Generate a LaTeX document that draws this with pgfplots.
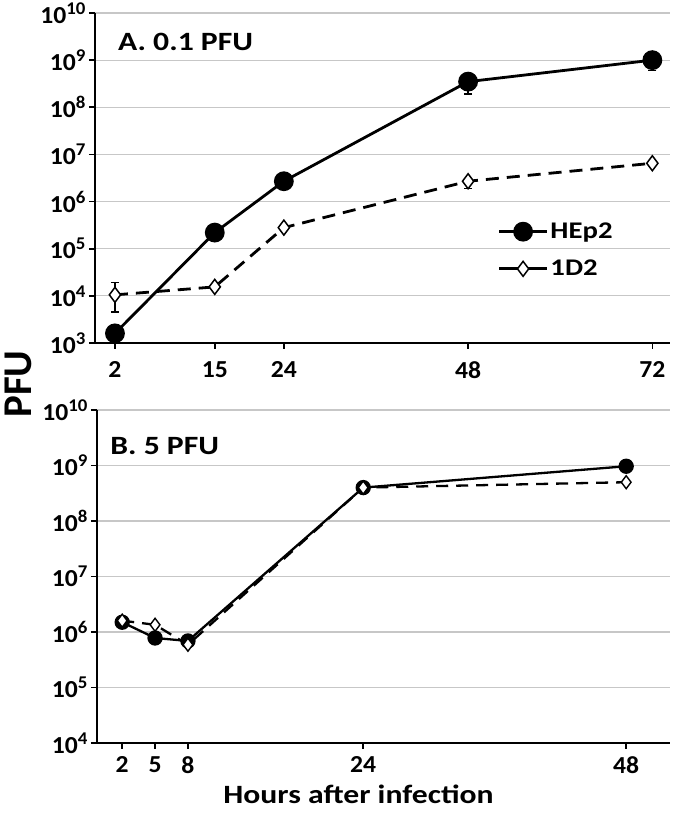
\documentclass[border=0pt]{standalone}
\usepackage{fontspec}
\setmainfont{Carlito}
\newfontfamily\wide{Carlito}[FakeStretch=1.2]
\newfontfamily\tickf{Carlito}[FakeStretch=1.05]
\usepackage{pgfplots}
\pgfplotsset{compat=1.18}
\newcommand\ee[1]{10\raisebox{9bp}{\fontsize{18}{18}\selectfont #1}}
\begin{document}
\begin{tikzpicture}
\path[use as bounding box] (0bp,0bp) rectangle (677bp,-813bp);
% ---------------- Panel A ----------------
\begin{axis}[
  scale only axis, ymode=log, log basis y=10,
  axis x line*=bottom, axis y line*=left,
  axis line style={line width=2.8bp, -},
  ymajorgrids, grid style={black!22, line width=1.1bp},
  tick style={black, line width=1.6bp},
  tick align=outside, major tick length=6bp,
  minor ytick={},
  tick label style={font=\tickf\fontsize{24.5}{25}\selectfont\bfseries},
  xticklabel style={yshift=-9bp},
  clip=false,
  at={(95bp,-343bp)}, anchor=south west,
  width=575bp, height=330bp,
  xmin=-0.6, xmax=74.3, ymin=1e3, ymax=1e10,
  xtick={2,15,24,48,72}, xticklabels={2,15,24,48,72},
  ytick={1e3,1e4,1e5,1e6,1e7,1e8,1e9,1e10},
  yticklabels={\ee{3},\ee{4},\ee{5},\ee{6},\ee{7},\ee{8},\ee{9},\ee{10}},
  legend style={at={(rel axis cs:0.70,0.37)}, anchor=north west, draw=none, fill=none,
    inner sep=0pt, row sep=16bp, font=\wide\fontsize{24}{25}\selectfont\bfseries},
  legend cell align=left,
  legend image code/.code={\draw[mark repeat=2,mark phase=2,#1,solid] plot coordinates {(0bp,0bp) (24bp,0bp) (48bp,0bp)};},
]
% error bars
\addplot[forget plot, draw=none, error bars/.cd, y dir=minus, y explicit,
  error bar style={line width=1.5bp, black}, error mark options={rotate=90, line width=1.5bp, mark size=4bp, black}]
  coordinates {(48,3.5e8) -= (0,1.6e8) (72,1.0e9) -= (0,4.0e8)};
\addplot[forget plot, draw=none, error bars/.cd, y dir=both, y explicit,
  error bar style={line width=1.5bp, black}, error mark options={rotate=90, line width=1.5bp, mark size=4bp, black}]
  coordinates {(2,1.05e4) += (0,0.85e4) -= (0,0.59e4)};
\addplot[forget plot, draw=none, error bars/.cd, y dir=minus, y explicit,
  error bar style={line width=1.5bp, black}, error mark options={rotate=90, line width=1.5bp, mark size=4bp, black}]
  coordinates {(48,2.7e6) -= (0,0.8e6)};
% data
\addplot[black, line width=2.8bp, mark=*, mark size=8.5bp, mark options={solid, fill=black}]
  coordinates {(2,1.6e3) (15,2.2e5) (24,2.7e6) (48,3.5e8) (72,1.0e9)};
\addlegendentry{HEp2}
\addplot[black, line width=2.8bp, dash pattern=on 13bp off 8bp, mark=diamond*, mark size=7.5bp,
  mark options={solid, fill=white, line width=1.5bp}]
  coordinates {(2,1.05e4) (15,1.55e4) (24,2.8e5) (48,2.7e6) (72,6.5e6)};
\addlegendentry{1D2}
\node[anchor=base west, inner sep=0pt, font=\wide\fontsize{26.5}{27}\selectfont\bfseries]
  at (rel axis cs:0.040,0.885) {A. 0.1 PFU};
\end{axis}
% ---------------- Panel B ----------------
\begin{axis}[
  scale only axis, ymode=log, log basis y=10,
  axis x line*=bottom, axis y line*=left,
  axis line style={line width=2.8bp, -},
  ymajorgrids, grid style={black!22, line width=1.1bp},
  tick style={black, line width=1.6bp},
  tick align=outside, major tick length=6bp,
  minor ytick={},
  tick label style={font=\tickf\fontsize{24.5}{25}\selectfont\bfseries},
  xticklabel style={yshift=-4bp},
  clip=false,
  at={(97bp,-743bp)}, anchor=south west,
  width=573bp, height=333bp,
  xmin=-0.3, xmax=52, ymin=1e4, ymax=1e10,
  xtick={2,5,8,24,48}, xticklabels={2,5,8,24,48},
  ytick={1e4,1e5,1e6,1e7,1e8,1e9,1e10},
  yticklabels={\ee{4},\ee{5},\ee{6},\ee{7},\ee{8},\ee{9},\ee{10}},
]
\addplot[black, line width=2.3bp, mark=*, mark size=6.5bp, mark options={solid, fill=black}]
  coordinates {(2,1.5e6) (5,7.8e5) (8,6.9e5) (24,4.0e8) (48,9.7e8)};
\addplot[black, line width=2.3bp, dash pattern=on 12bp off 8bp, mark=diamond*, mark size=6.5bp,
  mark options={solid, fill=white, line width=1.4bp}]
  coordinates {(2,1.6e6) (5,1.35e6) (8,5.9e5) (24,4.0e8) (48,5.0e8)};
\node[anchor=base west, inner sep=0pt, font=\wide\fontsize{26.5}{27}\selectfont\bfseries]
  at (rel axis cs:0.023,0.865) {B. 5 PFU};
\end{axis}
% axis titles
\node[rotate=90, inner sep=0pt, font=\fontsize{41}{41}\selectfont\bfseries] at (18bp,-384bp) {PFU};
\node[anchor=base, inner sep=0pt, font=\wide\fontsize{26.5}{27}\selectfont\bfseries] at (358.5bp,-803bp) {Hours after infection};
\end{tikzpicture}
\end{document}
